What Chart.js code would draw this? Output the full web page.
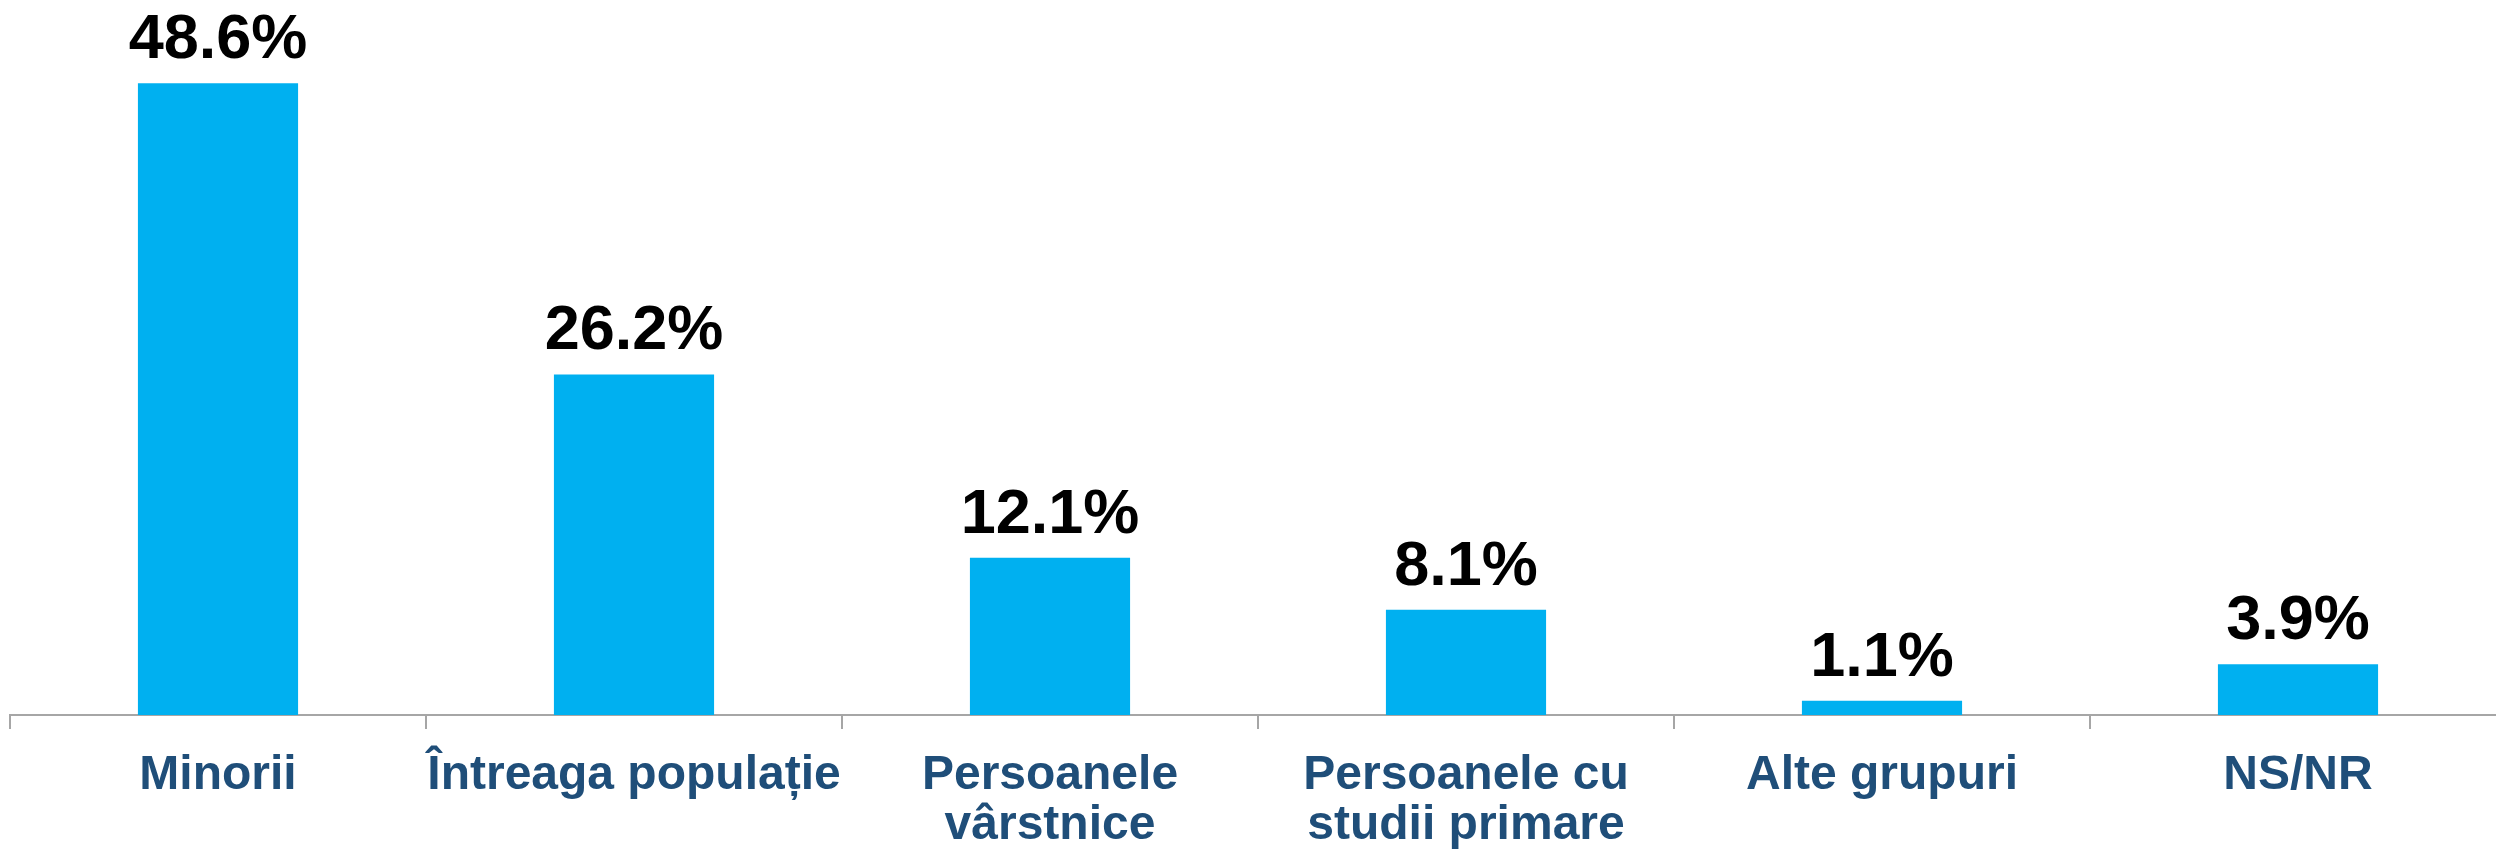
<!DOCTYPE html>
<html>
<head>
<meta charset="utf-8">
<script src="https://cdn.jsdelivr.net/npm/chart.js@4.4.1/dist/chart.umd.min.js"></script>
<style>
  html, body { margin: 0; padding: 0; background: #ffffff; overflow: hidden; }
  #wrap { position: absolute; left: 0; top: 0; width: 2506px; height: 850px; }
</style>
</head>
<body>
<div id="wrap"><canvas id="c"></canvas></div>
<script>
const categories = [
  "Minorii",
  "Întreaga populație",
  ["Persoanele", "vârstnice"],
  ["Persoanele cu", "studii primare"],
  "Alte grupuri",
  "NS/NR"
];
const values = [48.6, 26.2, 12.1, 8.1, 1.1, 3.9];
const valueLabels = ["48.6%", "26.2%", "12.1%", "8.1%", "1.1%", "3.9%"];

const valueLabelPlugin = {
  id: 'valueLabels',
  afterDatasetsDraw(chart) {
    const ctx = chart.ctx;
    const meta = chart.getDatasetMeta(0);
    ctx.save();
    ctx.fillStyle = '#000000';
    ctx.font = 'bold 63px "Liberation Sans", Arial, sans-serif';
    ctx.textAlign = 'center';
    ctx.textBaseline = 'alphabetic';
    meta.data.forEach((bar, i) => {
      ctx.fillText(valueLabels[i], bar.x, bar.y - 25);
    });
    ctx.restore();
  }
};

new Chart(document.getElementById('c'), {
  type: 'bar',
  data: {
    labels: categories,
    datasets: [{
      data: values,
      backgroundColor: '#00B0F0',
      borderWidth: 0,
      barPercentage: 1,
      categoryPercentage: 0.385
    }]
  },
  options: {
    responsive: true,
    maintainAspectRatio: false,
    animation: false,
    layout: { padding: { left: 10, right: 0, top: 0, bottom: 0 } },
    plugins: {
      legend: { display: false },
      tooltip: { enabled: false }
    },
    scales: {
      y: {
        display: false,
        min: 0,
        max: 55
      },
      x: {
        z: 1,
        offset: true,
        grid: {
          display: true,
          drawOnChartArea: false,
          drawTicks: true,
          tickLength: 14,
          color: '#A6A6A6',
          lineWidth: 2,
          offset: true
        },
        border: { display: true, color: '#A6A6A6', width: 2 },
        ticks: {
          color: '#1F4E79',
          padding: 22,
          maxRotation: 0,
          autoSkip: false,
          font: { family: '"Liberation Sans", Arial, sans-serif', size: 48, weight: 'bold', lineHeight: 50 / 48 }
        },
        afterFit(scale) { scale.height = 135; }
      }
    }
  },
  plugins: [valueLabelPlugin]
});
</script>
</body>
</html>
